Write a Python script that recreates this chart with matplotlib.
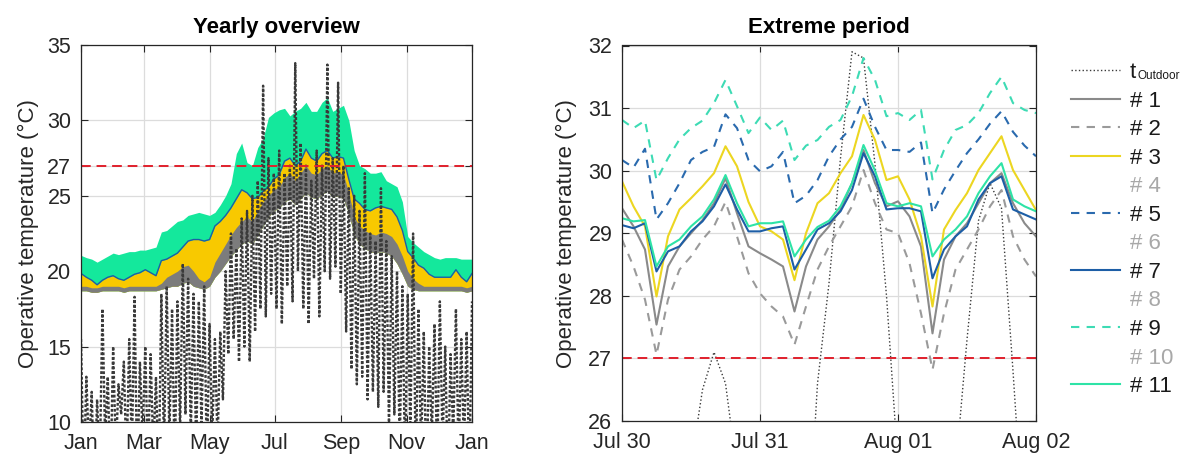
import matplotlib
matplotlib.use("Agg")
import matplotlib.pyplot as plt
from matplotlib.lines import Line2D
import numpy as np

plt.rcParams["font.family"] = ["Liberation Sans", "DejaVu Sans"]
plt.rcParams["axes.linewidth"] = 0.8

# ---------------- yearly overview (values every 5 days) ----------------
year_days = list(range(0, 366, 5))

green_hi = [21.05, 20.9, 20.8, 20.6, 20.8, 21.0, 21.2, 21.1, 21.2, 21.3, 21.3, 21.4, 21.4, 21.5,
            21.6, 22.6, 22.7, 23.0, 23.3, 23.4, 23.7, 23.8, 23.9, 23.8, 23.7, 23.9, 24.4, 25.0,
            25.8, 27.8, 28.5, 27.2, 27.0, 28.2, 28.8, 30.2, 30.5, 30.7, 30.8, 30.3, 30.6, 30.8,
            31.2, 30.6, 30.6, 31.2, 31.5, 30.6, 30.8, 31.0, 30.0, 28.0, 27.0, 26.8, 26.5, 26.5,
            26.6, 26.0, 25.8, 25.6, 24.6, 22.3, 21.9, 21.6, 21.3, 21.1, 20.9, 20.8, 20.9, 20.9,
            20.9, 20.8, 20.8, 20.8]

yellow_hi = [19.85, 19.6, 19.4, 19.1, 19.4, 19.6, 19.7, 19.5, 19.4, 19.6, 19.8, 19.9, 20.1, 19.9,
             19.7, 20.7, 20.8, 21.0, 21.2, 21.6, 22.0, 22.1, 22.1, 22.0, 22.1, 23.0, 23.3, 23.7,
             24.2, 24.8, 25.4, 25.2, 24.8, 24.9, 25.3, 25.6, 26.1, 26.4, 27.3, 27.5, 27.0, 27.3,
             28.1, 27.5, 27.3, 27.8, 28.0, 27.5, 27.6, 27.5, 26.1, 24.8, 24.5, 24.1, 24.0, 24.2,
             24.3, 24.2, 24.1, 23.6, 22.7, 21.3, 20.9, 20.4, 20.2, 19.8, 19.6, 19.6, 19.6, 19.6,
             20.1, 19.6, 19.3, 19.85]

grey_hi = [19.0, 19.0, 18.9, 18.9, 19.0, 19.0, 19.0, 19.0, 18.9, 19.0, 19.0, 19.0, 19.0, 19.0,
           19.0, 19.2, 19.6, 19.8, 20.0, 20.3, 20.4, 20.0, 19.5, 19.3, 19.6, 20.6, 21.2, 21.8,
           22.4, 22.9, 23.3, 23.6, 23.3, 24.0, 24.6, 25.0, 25.4, 25.6, 26.2, 26.5, 26.0, 26.5,
           27.0, 26.5, 26.4, 26.8, 27.0, 26.5, 26.6, 26.4, 25.2, 23.6, 23.0, 22.7, 22.5, 22.4,
           22.6, 22.5, 22.3, 21.8, 21.0, 20.0, 19.5, 19.2, 19.0, 19.0, 19.0, 19.0, 19.0, 19.0,
           19.0, 19.0, 18.9, 19.0]

grey_lo = [18.7, 18.7, 18.6, 18.6, 18.7, 18.7, 18.7, 18.7, 18.6, 18.7, 18.7, 18.7, 18.7, 18.7,
           18.7, 18.8, 18.9, 19.0, 19.0, 19.2, 19.3, 19.0, 18.9, 18.8, 19.0, 19.6, 20.0, 20.5,
           21.0, 21.4, 21.8, 22.0, 21.8, 22.4, 23.0, 23.6, 24.0, 24.2, 24.6, 24.8, 24.4, 24.8,
           25.2, 24.9, 24.8, 25.1, 25.3, 24.9, 25.0, 24.8, 23.8, 22.4, 21.8, 21.5, 21.3, 21.2,
           21.3, 21.2, 21.0, 20.5, 19.8, 19.0, 18.8, 18.7, 18.7, 18.7, 18.7, 18.7, 18.7, 18.7,
           18.7, 18.7, 18.6, 18.7]

# outdoor temperature: highs on the 5-day grid, lows half-way between
outdoor_max = [15.5, 13.0, 12.0, 11.5, 17.5, 13.0, 15.0, 12.5, 14.0, 15.5, 18.3, 14.0, 15.0, 14.5,
               13.0, 18.5, 19.0, 17.5, 18.0, 20.5, 19.5, 18.5, 18.0, 19.0, 16.5, 15.5, 16.0, 20.0,
               22.5, 21.5, 23.5, 24.0, 25.0, 26.0, 32.3, 27.5, 26.5, 28.0, 26.5, 27.0, 33.8, 28.5,
               27.0, 26.0, 28.0, 27.0, 33.7, 27.5, 32.5, 27.0, 25.5, 25.0, 24.0, 26.5, 22.5, 22.0,
               25.5, 22.0, 21.0, 20.0, 19.0, 18.5, 22.5, 17.5, 16.0, 15.0, 16.5, 18.0, 15.0, 14.5,
               17.5, 15.5, 16.0, 18.0]

outdoor_min = [6.0, 8.0, 5.0, 7.0, 9.0, 6.0, 8.0, 10.5, 7.0, 8.0, 6.0, 9.0, 7.0, 8.0, 6.0, 8.0,
               9.0, 7.0, 9.5, 10.5, 9.0, 8.0, 9.5, 7.0, 9.0, 8.5, 11.5, 14.5, 15.5, 14.0, 15.0,
               14.0, 16.0, 17.5, 17.0, 18.5, 17.5, 16.5, 19.0, 18.0, 20.0, 17.5, 16.5, 19.5, 17.0,
               20.0, 19.5, 20.3, 18.5, 16.0, 13.5, 12.5, 13.0, 11.5, 12.0, 11.0, 12.0, 9.5, 10.5,
               8.0, 7.0, 9.0, 6.5, 8.0, 5.5, 9.0, 7.0, 8.5, 6.0, 9.0, 7.5, 8.0, 6.0]

month_ticks = [0, 59, 120, 181, 243, 304, 365]
month_labels = ["Jan", "Mar", "May", "Jul", "Sep", "Nov", "Jan"]
year_yticks = [10, 15, 20, 25, 27, 30, 35]

# ---------------- extreme period (values every 2 hours) ----------------
hours = list(range(0, 73, 2))

t_outdoor = [22.0, 21.0, 20.0, 19.5, 20.5, 23.0, 25.3, 26.5, 27.1, 26.6, 25.2, 23.5, 22.0, 21.0,
             20.3, 20.0, 23.5, 26.6, 28.2, 30.2, 31.9, 31.8, 30.1, 28.0, 25.3, 23.0, 21.5, 20.5,
             21.5, 25.2, 27.3, 29.2, 29.8, 29.4, 26.8, 24.0, 22.0]
case_1 = [29.4, 29.11, 28.74, 27.54, 28.47, 28.79, 29.0, 29.21, 29.48, 29.88, 29.32, 28.79, 28.68,
          28.58, 28.47, 27.75, 28.47, 28.9, 29.11, 29.38, 29.8, 30.33, 29.8, 29.43, 29.51, 29.27,
          28.79, 27.4, 28.58, 28.95, 29.16, 29.48, 29.8, 29.96, 29.48, 29.16, 28.95]
case_2 = [28.9, 28.47, 27.94, 27.06, 27.94, 28.42, 28.63, 28.9, 29.11, 29.5, 28.95, 28.36, 28.04,
          27.83, 27.67, 27.22, 27.83, 28.42, 28.79, 29.11, 29.43, 30.01, 29.48, 29.06, 29.0, 28.52,
          27.72, 26.82, 27.72, 28.42, 28.74, 29.06, 29.43, 29.69, 28.95, 28.58, 28.31]
case_3 = [29.83, 29.43, 29.11, 27.99, 28.95, 29.38, 29.56, 29.75, 29.96, 30.39, 30.07, 29.5, 29.11,
          29.03, 28.9, 28.25, 29.0, 29.48, 29.64, 29.96, 30.23, 30.89, 30.49, 29.85, 29.91, 29.54,
          28.95, 27.83, 29.06, 29.37, 29.64, 30.01, 30.28, 30.55, 30.01, 29.69, 29.37]
case_5 = [30.17, 30.05, 30.35, 29.22, 29.48, 29.8, 30.17, 30.3, 30.38, 30.9, 30.68, 30.17, 29.99,
          30.07, 30.3, 29.48, 29.6, 29.85, 30.23, 30.5, 30.7, 31.15, 30.7, 30.33, 30.33, 30.3,
          30.45, 29.32, 29.7, 30.0, 30.28, 30.5, 30.75, 30.95, 30.62, 30.4, 30.23]
case_7 = [29.13, 29.08, 29.16, 28.39, 28.71, 28.79, 29.03, 29.19, 29.43, 29.78, 29.38, 29.03, 29.03,
          29.08, 29.11, 28.42, 28.74, 29.06, 29.16, 29.35, 29.69, 30.28, 29.91, 29.38, 29.4, 29.4,
          29.35, 28.28, 28.74, 28.95, 29.11, 29.54, 29.8, 29.91, 29.38, 29.3, 29.22]
case_9 = [30.81, 30.68, 30.8, 29.85, 30.2, 30.5, 30.68, 30.8, 31.08, 31.45, 31.03, 30.6, 30.85,
          30.65, 30.8, 30.17, 30.4, 30.49, 30.7, 30.81, 31.19, 31.8, 31.45, 30.87, 30.92, 30.81,
          30.97, 29.86, 30.33, 30.65, 30.73, 30.92, 31.24, 31.5, 31.08, 30.97, 30.92]
case_11 = [29.24, 29.19, 29.21, 28.47, 28.79, 28.9, 29.11, 29.27, 29.54, 29.93, 29.48, 29.11, 29.16,
           29.16, 29.19, 28.63, 28.9, 29.1, 29.2, 29.43, 29.8, 30.41, 30.0, 29.48, 29.43, 29.48,
           29.43, 28.63, 28.9, 29.06, 29.27, 29.64, 29.91, 30.12, 29.54, 29.43, 29.35]

day_ticks = [0, 24, 48, 72]
day_labels = ["Jul 30", "Jul 31", "Aug 01", "Aug 02"]
period_yticks = [26, 27, 28, 29, 30, 31, 32]

limit_temp = 27

# ---------------- colours ----------------
C_OUT = "#3a3a3a"
C_GREY = "#8a8a8a"
C_GREY2 = "#9a9a9a"
C_YELLOW = "#ecd621"
C_YELLOW_BAND = "#f8c900"
C_BLUE = "#2a6aae"
C_BLUE_DARK = "#1d5ea6"
C_MINT_DASH = "#3ddbb4"
C_MINT = "#2ee3a6"
C_GREEN_BAND = "#14e89c"
C_RED = "#e0202c"
C_AX = "#262626"
C_GRID = "#dcdcdc"


def style_axes(ax):
    ax.set_axisbelow(True)
    ax.grid(True, color=C_GRID, linewidth=0.9)
    ax.tick_params(direction="in", top=True, right=True, length=5, width=0.8,
                   colors=C_AX, labelsize=15.5, labelcolor="#262626")
    ax.tick_params(axis="y", pad=7)
    ax.tick_params(axis="x", pad=8)
    for s in ax.spines.values():
        s.set_color(C_AX)
        s.set_linewidth(0.9)


fig = plt.figure(figsize=(11.88, 4.58), dpi=100)

# ---------------- left: yearly overview ----------------
ax1 = fig.add_axes([81 / 1188, 1 - 422 / 458, 391 / 1188, 377 / 458])
style_axes(ax1)

d = np.array(year_days, dtype=float)
ax1.fill_between(d, grey_lo, green_hi, color=C_GREEN_BAND, linewidth=0)
ax1.plot(d, yellow_hi, color=C_BLUE_DARK, linewidth=1.0)
ax1.fill_between(d, grey_lo, yellow_hi, color=C_YELLOW_BAND, linewidth=0)
ax1.fill_between(d, grey_lo, grey_hi, color="#7c7c7c", linewidth=0)

# outdoor temperature as a zig-zag between highs and lows
n_low = len(outdoor_min)
zig_x = np.empty(len(outdoor_max) + n_low)
zig_y = np.empty_like(zig_x)
zig_x[0::2] = d
zig_y[0::2] = outdoor_max
zig_x[1::2] = d[:n_low] + 2.5
zig_y[1::2] = outdoor_min
ax1.plot(zig_x, zig_y, color=C_OUT, linestyle=(0, (1.2, 0.8)), linewidth=1.7)

ax1.axhline(limit_temp, color=C_RED, linestyle=(0, (5, 3)), linewidth=1.4)
ax1.set_xlim(0, 365)
ax1.set_ylim(10, 35)
ax1.set_xticks(month_ticks)
ax1.set_xticklabels(month_labels)
ax1.set_yticks(year_yticks)
ax1.set_ylabel("Operative temperature (°C)", fontsize=16, color="#262626", labelpad=6)
ax1.set_title("Yearly overview", fontsize=16, fontweight="bold", pad=9)

# ---------------- right: extreme period ----------------
ax2 = fig.add_axes([622 / 1188, 1 - 421 / 458, 414 / 1188, 375.5 / 458])
style_axes(ax2)

h = np.array(hours, dtype=float)
l_out, = ax2.plot(h, t_outdoor, color=C_OUT, linestyle=":", linewidth=1.0)
l1, = ax2.plot(h, case_1, color=C_GREY, linewidth=1.5)
l2, = ax2.plot(h, case_2, color=C_GREY2, linestyle=(0, (4, 3.5)), linewidth=1.5)
l3, = ax2.plot(h, case_3, color=C_YELLOW, linewidth=1.5)
l5, = ax2.plot(h, case_5, color=C_BLUE, linestyle=(0, (4, 3.5)), linewidth=1.5)
l7, = ax2.plot(h, case_7, color=C_BLUE_DARK, linewidth=1.5)
l9, = ax2.plot(h, case_9, color=C_MINT_DASH, linestyle=(0, (4, 3.5)), linewidth=1.5)
l11, = ax2.plot(h, case_11, color=C_MINT, linewidth=1.5)
ax2.axhline(limit_temp, color=C_RED, linestyle=(0, (5, 3)), linewidth=1.4)

ax2.set_xlim(0, 72)
ax2.set_ylim(26, 32)
ax2.set_xticks(day_ticks)
ax2.set_xticklabels(day_labels)
ax2.set_yticks(period_yticks)
ax2.set_ylabel("Operative temperature (°C)", fontsize=16, color="#262626", labelpad=8)
ax2.set_title("Extreme period", fontsize=16, fontweight="bold", pad=9)

blank = Line2D([], [], linestyle="none")
handles = [l_out, l1, l2, l3, blank, l5, blank, l7, blank, l9, blank, l11]
labels = ["t", "# 1", "# 2", "# 3", "# 4", "# 5", "# 6",
          "# 7", "# 8", "# 9", "# 10", "# 11"]
leg = fig.legend(handles, labels, loc="upper left",
                 bbox_to_anchor=(1071 / 1188, 1 - 62 / 458),
                 frameon=False, fontsize=16, handlelength=2.2, handletextpad=0.45,
                 labelspacing=0.34, borderpad=0, borderaxespad=0)
for txt, lab in zip(leg.get_texts(), labels):
    if lab in ("# 4", "# 6", "# 8", "# 10"):
        txt.set_color("#a8a8a8")
    else:
        txt.set_color("#1a1a1a")

# small subscript next to the "t" of the outdoor entry
fig.canvas.draw()
bb = leg.get_texts()[0].get_window_extent()
W, H = fig.bbox.width, fig.bbox.height
fig.text((bb.x1 + 1) / W, (bb.y0 + 1) / H, "Outdoor", fontsize=8.5,
         color="#1a1a1a", ha="left", va="bottom")

fig.savefig("out.png", dpi=100)
